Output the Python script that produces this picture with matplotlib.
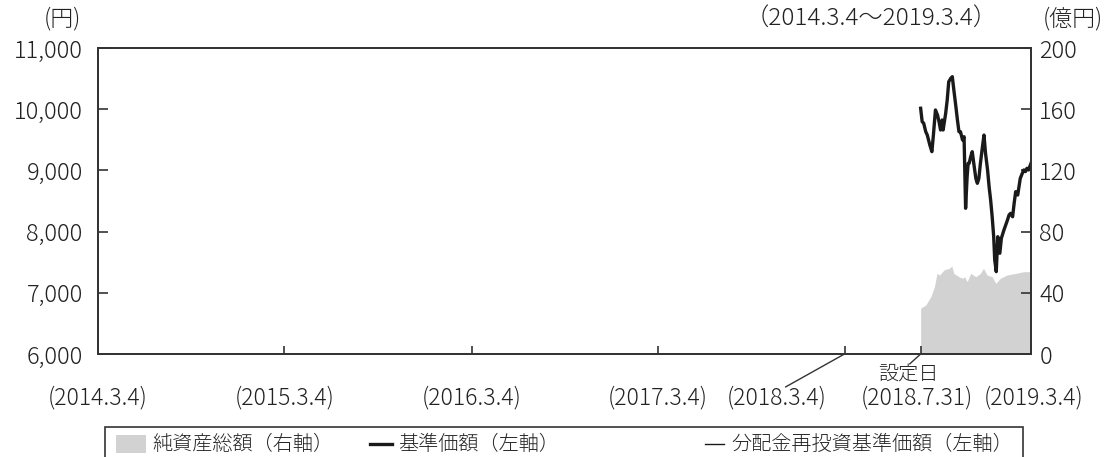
import matplotlib
matplotlib.use("Agg")
import matplotlib.pyplot as plt
import matplotlib.dates as mdates
import matplotlib.transforms as mtransforms
from matplotlib.patches import Rectangle
from matplotlib.lines import Line2D
from matplotlib.ticker import FuncFormatter
import pandas as pd

plt.rcParams['font.family'] = ['Noto Sans CJK JP', 'DejaVu Sans']
plt.rcParams['font.weight'] = 'light'

# 基準価額 (円)
nav_dates = ["2018-07-31", "2018-08-03", "2018-08-06", "2018-08-10", "2018-08-13",
             "2018-08-18", "2018-08-22", "2018-08-25", "2018-08-29", "2018-09-02",
             "2018-09-05", "2018-09-08", "2018-09-11", "2018-09-13", "2018-09-18",
             "2018-09-21", "2018-09-24", "2018-09-28", "2018-10-01", "2018-10-04",
             "2018-10-08", "2018-10-11", "2018-10-14", "2018-10-17", "2018-10-21",
             "2018-10-24", "2018-10-27", "2018-10-30", "2018-11-01", "2018-11-03",
             "2018-11-06", "2018-11-09", "2018-11-12", "2018-11-16", "2018-11-19",
             "2018-11-22", "2018-11-25", "2018-11-29", "2018-12-02", "2018-12-05",
             "2018-12-09", "2018-12-12", "2018-12-15", "2018-12-18", "2018-12-21",
             "2018-12-23", "2018-12-26", "2018-12-29", "2019-01-02", "2019-01-05",
             "2019-01-10", "2019-01-17", "2019-01-20", "2019-01-23", "2019-01-27",
             "2019-01-30", "2019-02-02", "2019-02-06", "2019-02-09", "2019-02-11",
             "2019-02-15", "2019-02-18", "2019-02-21", "2019-02-24", "2019-02-27",
             "2019-03-04"]
nav_values = [10015, 9796, 9770, 9632, 9578,
              9415, 9306, 9578, 9987, 9905,
              9796, 9660, 9824, 9660, 9933,
              10150, 10449, 10505, 10531, 10314,
              10041, 9824, 9632, 9632, 9497,
              9550, 8381, 8900, 9116, 9116,
              9224, 9306, 9116, 8870, 8789,
              8870, 9116, 9387, 9578, 9279,
              9007, 8733, 8516, 8243, 7917,
              7537, 7345, 7917, 7646, 7891,
              8025, 8190, 8271, 8298, 8243,
              8461, 8652, 8598, 8761, 8870,
              8953, 9007, 8980, 9034, 9007,
              9116]
# 分配金再投資基準価額 (円) - no distributions, same as NAV
reinv_values = list(nav_values)

# 純資産総額 (億円)
aum_dates = ["2018-07-31", "2018-08-10", "2018-08-20", "2018-08-27", "2018-09-01",
             "2018-09-06", "2018-09-15", "2018-09-25", "2018-09-30", "2018-10-04",
             "2018-10-14", "2018-10-21", "2018-10-25", "2018-10-30", "2018-11-06",
             "2018-11-16", "2018-11-25", "2018-12-01", "2018-12-08", "2018-12-18",
             "2018-12-25", "2019-01-03", "2019-01-16", "2019-02-02", "2019-02-18",
             "2019-03-04"]
aum_values = [30, 32, 37.5, 44, 52.7,
              51.6, 55, 56, 57.5, 52.7,
              50.5, 49.5, 50.5, 47.3, 52.7,
              50.5, 52.7, 56, 51.6, 50.5,
              46.2, 49.5, 51.6, 52.7, 53.8,
              53.8]

tick_dates = ["2014-03-04", "2015-03-04", "2016-03-04", "2017-03-04",
              "2018-03-04", "2018-07-31", "2019-03-04"]
tick_labels = ["(2014.3.4)", "(2015.3.4)", "(2016.3.4)", "(2017.3.4)",
               "(2018.3.4)", "(2018.7.31)", "(2019.3.4)"]

nav_dates = pd.to_datetime(nav_dates)
aum_dates = pd.to_datetime(aum_dates)
tick_dates = pd.to_datetime(tick_dates)
tick_nums = mdates.date2num(tick_dates)

spine_col = "#333333"
txt_col = "#222222"
fs = 17

fig = plt.figure(figsize=(11.05, 4.57), dpi=100)
ax = fig.add_axes([98 / 1105, 1 - 354 / 457, 933 / 1105, 306 / 457])
ax2 = ax.twinx()

# area on right axis, drawn behind the lines
ax2.fill_between(aum_dates, 0, aum_values, color="#d2d2d2", lw=0, zorder=1)
ax2.set_ylim(0, 200)
ax2.set_yticks(range(0, 201, 40))

ax.set_zorder(ax2.get_zorder() + 1)
ax.patch.set_visible(False)
ax.plot(nav_dates, reinv_values, color="black", lw=1.0)
ax.plot(nav_dates, nav_values, color="#1a1a1a", lw=2.4)

ax.set_ylim(6000, 11000)
ax.set_yticks(range(6000, 11001, 1000))
ax.yaxis.set_major_formatter(FuncFormatter(lambda v, p: f"{int(v):,}"))
ax.set_xlim(tick_nums[0], tick_nums[-1])
ax.set_xticks(tick_nums)
ax.set_xticklabels([])

for a in (ax, ax2):
    for s in a.spines.values():
        s.set_color(spine_col)
        s.set_linewidth(1.3)
ax.tick_params(axis="both", direction="in", length=7, width=1.2, color=spine_col,
               labelsize=fs, labelcolor=txt_col, pad=11)
ax.tick_params(axis="x", length=6)
ax2.tick_params(axis="y", direction="in", length=7, width=1.2, color=spine_col,
                labelsize=fs, labelcolor=txt_col, pad=6)

# date labels under the axis
trans = mtransforms.blended_transform_factory(ax.transData, ax.transAxes)
offsets = {4: (-68, -44), 5: (-4, -44), 6: (3, -44)}
for i, (d, lab) in enumerate(zip(tick_nums, tick_labels)):
    dx, dy = offsets.get(i, (0, -44))
    ax.annotate(lab, xy=(d, 0), xycoords=trans, xytext=(dx, dy),
                textcoords="offset pixels", ha="center", va="center",
                fontsize=16.5, color=txt_col, annotation_clip=False)

# leader lines
ax.annotate("", xy=(tick_nums[4], 0), xycoords=trans, xytext=(-59, -33),
            textcoords="offset pixels", annotation_clip=False,
            arrowprops=dict(arrowstyle="-", color=spine_col, lw=1.0, shrinkA=0, shrinkB=0))
ax.annotate("", xy=(tick_nums[5], 0), xycoords=trans, xytext=(-11, -10),
            textcoords="offset pixels", annotation_clip=False,
            arrowprops=dict(arrowstyle="-", color=spine_col, lw=1.0, shrinkA=0, shrinkB=0))
ax.annotate("設定日", xy=(tick_nums[5], 0), xycoords=trans, xytext=(-12, -20),
            textcoords="offset pixels", ha="center", va="center",
            fontsize=14.5, color=txt_col, annotation_clip=False)

# header texts
W, H = 1105, 457
fig.text(62 / W, 1 - 19 / H, "(円)", ha="center", va="center", fontsize=16.5, color=txt_col)
fig.text(871 / W, 1 - 19 / H, "（2014.3.4～2019.3.4）", ha="center", va="center",
         fontsize=17.5, color=txt_col)
fig.text(1073 / W, 1 - 19 / H, "(億円)", ha="center", va="center", fontsize=16.5, color=txt_col)

# legend box
lfs = 14.5
fig.add_artist(Rectangle((105 / W, -0.02), 918 / W, (457 - 427) / H + 0.02,
                         transform=fig.transFigure, fill=False, ec=spine_col, lw=1.2))
ly = 1 - 444 / H
fig.add_artist(Rectangle((116 / W, 1 - 453 / H), 30 / W, 18 / H,
                         transform=fig.transFigure, fc="#d2d2d2", ec="none"))
fig.text(152 / W, ly, "純資産総額（右軸）", ha="left", va="center", fontsize=lfs, color=txt_col)
fig.add_artist(Line2D([370 / W, 392 / W], [ly, ly], transform=fig.transFigure, color="#1a1a1a", lw=2.4))
fig.text(398 / W, ly, "基準価額（左軸）", ha="left", va="center", fontsize=lfs, color=txt_col)
fig.add_artist(Line2D([705 / W, 724 / W], [ly, ly], transform=fig.transFigure, color="#1a1a1a", lw=1.0))
fig.text(731 / W, ly, "分配金再投資基準価額（左軸）", ha="left", va="center", fontsize=lfs, color=txt_col)

fig.savefig("out.png", dpi=100)
